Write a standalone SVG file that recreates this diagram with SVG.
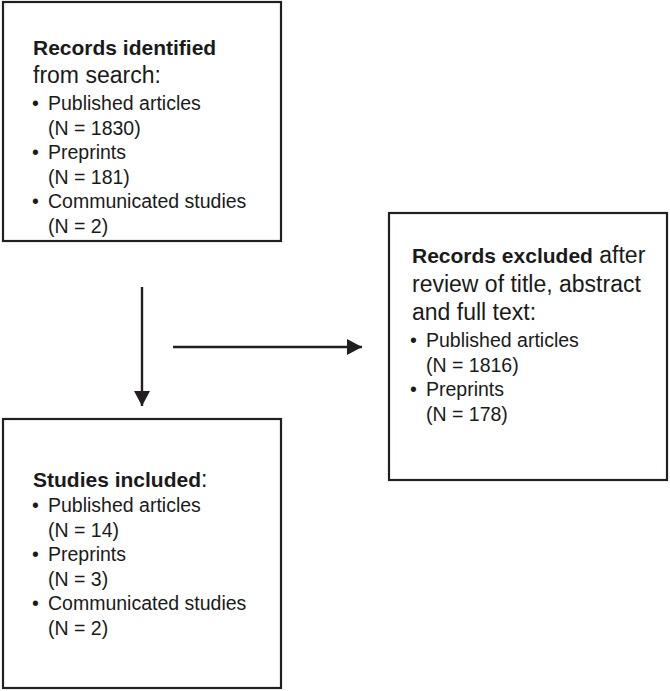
<svg xmlns="http://www.w3.org/2000/svg" width="670" height="691" viewBox="0 0 670 691">
<style>
.box{fill:#fff;stroke:#231f20;stroke-width:2.2}
text{font-family:"Liberation Sans",Arial,sans-serif;fill:#1a1a1a}
.h{font-size:23px}
.b{font-weight:bold;font-size:21px}
.t{font-size:19.5px}
.c{stroke:#231f20;stroke-width:2.4;fill:none}
</style>
<defs>
<marker id="ah" viewBox="0 0 15 16" refX="15" refY="8" markerWidth="15" markerHeight="16" markerUnits="userSpaceOnUse" orient="auto">
<path d="M0,0 L15,8 L0,16 Z" fill="#231f20"/>
</marker>
</defs>
<rect width="670" height="691" fill="#fff"/>
<g id="identified">
<rect class="box" x="3" y="2" width="278" height="239"/>
<text class="h" x="33" y="55"><tspan class="b">Records identified</tspan></text>
<text class="h" x="33" y="83">from search:</text>
<text class="t" x="32" y="110">•</text><text class="t" x="48" y="110">Published articles</text>
<text class="t" x="48" y="135">(N = 1830)</text>
<text class="t" x="32" y="159">•</text><text class="t" x="48" y="159">Preprints</text>
<text class="t" x="48" y="184">(N = 181)</text>
<text class="t" x="32" y="208">•</text><text class="t" x="48" y="208">Communicated studies</text>
<text class="t" x="48" y="233">(N = 2)</text>
</g>
<g id="excluded">
<rect class="box" x="389" y="213" width="278" height="267"/>
<text class="h" x="412" y="263"><tspan class="b">Records excluded</tspan> after</text>
<text class="h" x="412" y="292">review of title, abstract</text>
<text class="h" x="412" y="320">and full text:</text>
<text class="t" x="410" y="347">•</text><text class="t" x="426" y="347">Published articles</text>
<text class="t" x="426" y="372">(N = 1816)</text>
<text class="t" x="410" y="396">•</text><text class="t" x="426" y="396">Preprints</text>
<text class="t" x="426" y="421">(N = 178)</text>
</g>
<g id="included">
<rect class="box" x="3" y="419" width="278" height="269"/>
<text class="h" x="33" y="487"><tspan class="b">Studies included</tspan>:</text>
<text class="t" x="32" y="512">•</text><text class="t" x="48" y="512">Published articles</text>
<text class="t" x="48" y="537">(N = 14)</text>
<text class="t" x="32" y="561">•</text><text class="t" x="48" y="561">Preprints</text>
<text class="t" x="48" y="586">(N = 3)</text>
<text class="t" x="32" y="610">•</text><text class="t" x="48" y="610">Communicated studies</text>
<text class="t" x="48" y="635">(N = 2)</text>
</g>
<g id="connectors">
<line class="c" x1="142" y1="287" x2="142" y2="406" marker-end="url(#ah)"/>
<line class="c" x1="173" y1="347" x2="362" y2="347" marker-end="url(#ah)"/>
</g>
</svg>
